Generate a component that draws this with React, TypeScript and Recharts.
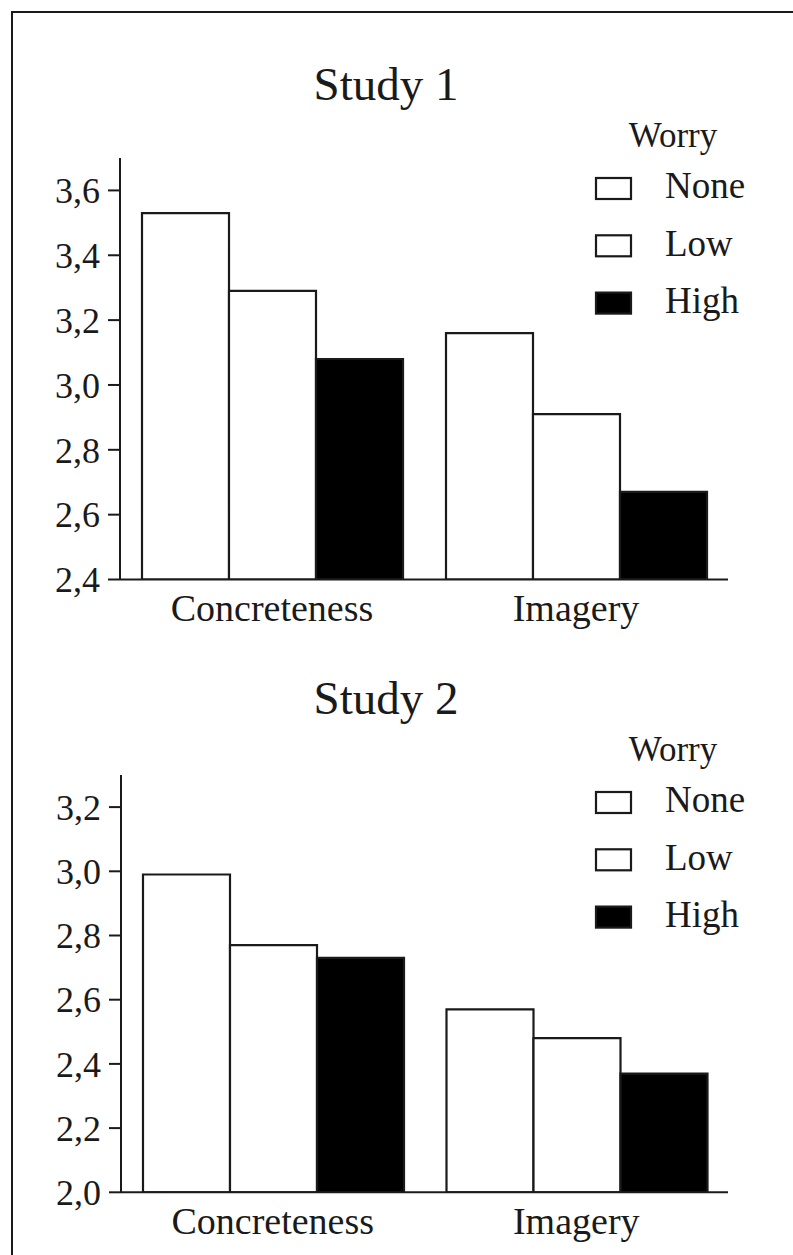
import { BarChart, Bar, XAxis, YAxis } from 'recharts'

const categories = ['Concreteness', 'Imagery']
const levels = ['None', 'Low', 'High']
const levelFills = ['#ffffff', '#ffffff', '#000000']

const study1None = [3.53, 3.16]
const study1Low = [3.29, 2.91]
const study1High = [3.08, 2.67]
const study1Ticks = [2.4, 2.6, 2.8, 3.0, 3.2, 3.4, 3.6]

const study2None = [2.99, 2.57]
const study2Low = [2.77, 2.48]
const study2High = [2.73, 2.37]
const study2Ticks = [2.0, 2.2, 2.4, 2.6, 2.8, 3.0, 3.2]

const SERIF = '"Liberation Serif", "Times New Roman", Times, serif'
const INK = '#1a1a1a'

function buildRows(none: number[], low: number[], high: number[]) {
  return categories.map((name, i) => ({ name, None: none[i], Low: low[i], High: high[i] }))
}

const comma = (v: number) => v.toFixed(1).replace('.', ',')

interface PanelProps {
  title: string
  rows: Record<string, string | number>[]
  domain: [number, number]
  ticks: number[]
  top: number
  plotTop: number
  plotBottom: number
  plotLeft: number
}

function Panel({ title, rows, domain, ticks, top, plotTop, plotBottom, plotLeft }: PanelProps) {
  const W = 793
  const H = 640
  const plotRight = 728
  const yAxisWidth = 70
  const xAxisHeight = 50

  return (
    <div style={{ position: 'absolute', left: 0, top, width: W, height: H }}>
      <BarChart
        width={W}
        height={H}
        data={rows}
        margin={{ top: plotTop, right: W - plotRight, bottom: H - plotBottom - xAxisHeight, left: plotLeft - yAxisWidth }}
        barCategoryGap={22}
        barGap={0}
      >
        <XAxis
          dataKey="name"
          height={xAxisHeight}
          tickLine={false}
          tickSize={0}
          tickMargin={15}
          axisLine={{ stroke: INK, strokeWidth: 2 }}
          tick={{ fontFamily: SERIF, fontSize: 38, fill: INK }}
        />
        <YAxis
          type="number"
          width={yAxisWidth}
          domain={domain}
          ticks={ticks}
          interval={0}
          allowDataOverflow
          tickFormatter={comma}
          tickSize={12}
          tickMargin={8}
          axisLine={{ stroke: INK, strokeWidth: 2 }}
          tickLine={{ stroke: INK, strokeWidth: 2 }}
          tick={{ fontFamily: SERIF, fontSize: 36, fill: INK }}
        />
        {levels.map((lv, i) => (
          <Bar key={lv} dataKey={lv} fill={levelFills[i]} stroke={INK} strokeWidth={2.2} isAnimationActive={false} />
        ))}
      </BarChart>
      <svg width={W} height={H} style={{ position: 'absolute', left: 0, top: 0, pointerEvents: 'none' }}>
        <text x={386} y={100} textAnchor="middle" fontFamily={SERIF} fontSize={47} fill={INK}>
          {title}
        </text>
        <text x={673} y={147} textAnchor="middle" fontFamily={SERIF} fontSize={35} fill={INK}>
          Worry
        </text>
        {levels.map((lv, i) => (
          <g key={lv}>
            <rect x={596} y={178 + i * 57.3} width={35} height={21} fill={levelFills[i]} stroke={INK} strokeWidth={2.2} />
            <text x={665} y={198 + i * 57.5} fontFamily={SERIF} fontSize={37} fill={INK}>
              {lv}
            </text>
          </g>
        ))}
      </svg>
    </div>
  )
}

export default function App() {
  return (
    <div style={{ position: 'absolute', left: 0, top: 0, width: 793, height: 1255, background: '#fff', overflow: 'hidden' }}>
      <div
        style={{
          position: 'absolute',
          left: 11,
          top: 11,
          width: 800,
          height: 1260,
          borderTop: `2px solid ${INK}`,
          borderLeft: `2px solid ${INK}`,
        }}
      />
      <Panel
        title="Study 1"
        rows={buildRows(study1None, study1Low, study1High)}
        domain={[2.4, 3.7]}
        ticks={study1Ticks}
        top={0}
        plotTop={158}
        plotBottom={579.5}
        plotLeft={120}
      />
      <Panel
        title="Study 2"
        rows={buildRows(study2None, study2Low, study2High)}
        domain={[2.0, 3.3]}
        ticks={study2Ticks}
        top={614}
        plotTop={161}
        plotBottom={578.3}
        plotLeft={121}
      />
    </div>
  )
}
